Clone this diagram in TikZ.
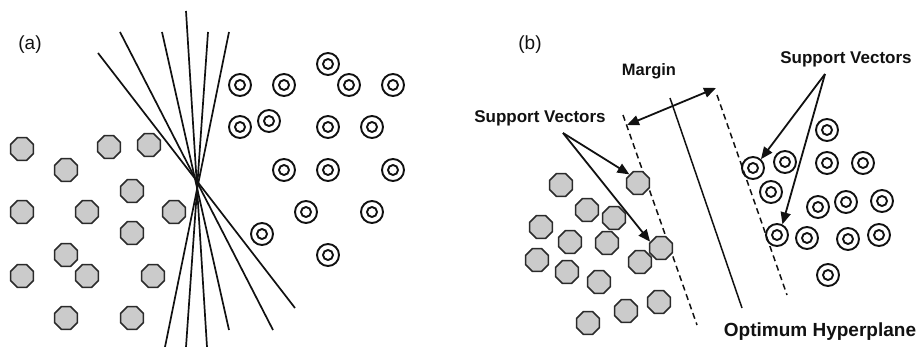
\documentclass[tikz,border=0pt]{standalone}
\usepackage{fontspec}
\setmainfont{Liberation Sans}
\usetikzlibrary{shapes.geometric,arrows.meta}
\definecolor{octfill}{HTML}{CBCBCB}
\definecolor{octline}{HTML}{2A2A2A}
\definecolor{ink}{HTML}{111111}
\tikzset{
  oct/.style={regular polygon, regular polygon sides=8, minimum size=24.6pt, inner sep=0pt,
    fill=octfill, draw=octline, line width=1.6pt},
  ring/.style={circle, minimum size=22pt, inner sep=0pt, draw=ink, line width=1.9pt,
    path picture={\draw[ink, line width=1.9pt] (path picture bounding box.center) circle (5pt);}},
  sepline/.style={draw=ink, line width=1.7pt},
  hyper/.style={draw=ink, line width=1.5pt},
  margline/.style={draw=ink, line width=1.5pt, dash pattern=on 6pt off 4pt},
  arr/.style={draw=ink, line width=1.8pt, -{Triangle[length=12pt,width=10pt]}},
  darr/.style={draw=ink, line width=1.8pt, {Triangle[length=12pt,width=10pt]}-{Triangle[length=12pt,width=10pt]}},
  lbl/.style={text=ink, inner sep=0pt, anchor=base, font=\fontsize{19}{22}\selectfont},
  blbl/.style={text=ink, inner sep=0pt, anchor=base, font=\bfseries\fontsize{17}{20}\selectfont},
}
\begin{document}
\begin{tikzpicture}[x=1pt,y=-1pt]
\useasboundingbox (0,0) rectangle (917,347);
% ---------- panel (a) ----------
\node[lbl] (la) at (30,50) {(a)};
% separating lines
\coordinate (l1a) at (98,53);   \coordinate (l1b) at (295,308);
\coordinate (l2a) at (120,32);  \coordinate (l2b) at (273,330);
\coordinate (l3a) at (162,32);  \coordinate (l3b) at (229,330);
\coordinate (l4a) at (186,11);  \coordinate (l4b) at (207,347);
\coordinate (l5a) at (208,32);  \coordinate (l5b) at (186,347);
\coordinate (l6a) at (229,32);  \coordinate (l6b) at (165,347);
\foreach \i in {1,...,6} {\draw[sepline] (l\i a) -- (l\i b);}
% octagons (a)
\node[oct] (a1) at (22,149) {};
\node[oct] (a2) at (109,147) {};
\node[oct] (a3) at (149,145) {};
\node[oct] (a4) at (66,170) {};
\node[oct] (a5) at (132,191) {};
\node[oct] (a6) at (22,212) {};
\node[oct] (a7) at (87,212) {};
\node[oct] (a8) at (174,212) {};
\node[oct] (a9) at (132,233) {};
\node[oct] (a10) at (66,255) {};
\node[oct] (a11) at (22,276) {};
\node[oct] (a12) at (87,276) {};
\node[oct] (a13) at (153,276) {};
\node[oct] (a14) at (66,318) {};
\node[oct] (a15) at (132,318) {};
% rings (a)
\node[ring] (r1) at (328,64) {};
\node[ring] (r2) at (240,85) {};
\node[ring] (r3) at (284,85) {};
\node[ring] (r4) at (349,85) {};
\node[ring] (r5) at (393,85) {};
\node[ring] (r6) at (240,127) {};
\node[ring] (r7) at (269,121) {};
\node[ring] (r8) at (328,127) {};
\node[ring] (r9) at (372,127) {};
\node[ring] (r10) at (284,170) {};
\node[ring] (r11) at (328,170) {};
\node[ring] (r12) at (393,170) {};
\node[ring] (r13) at (306,212) {};
\node[ring] (r14) at (372,212) {};
\node[ring] (r15) at (262,234) {};
\node[ring] (r16) at (328,255) {};
% ---------- panel (b) ----------
\node[lbl] (lb) at (530,50) {(b)};
% hyperplane and margins
\coordinate (dla) at (623,115); \coordinate (dlb) at (697,325);
\coordinate (dra) at (717,95);  \coordinate (drb) at (787,295);
\coordinate (ha) at (670,98);   \coordinate (hb) at (742,308);
\draw[margline] (dla) -- (dlb);
\draw[margline] (dra) -- (drb);
\draw[hyper] (ha) -- (hb);
% octagons (b)
\node[oct] (b1) at (561,185) {};
\node[oct] (sv1) at (638,183) {};
\node[oct] (b3) at (587,210) {};
\node[oct] (b4) at (614,218) {};
\node[oct] (b5) at (541,227) {};
\node[oct] (b6) at (570,242) {};
\node[oct] (b7) at (607,243) {};
\node[oct] (sv2) at (661,248) {};
\node[oct] (b9) at (537,260) {};
\node[oct] (b10) at (567,272) {};
\node[oct] (b11) at (599,282) {};
\node[oct] (b12) at (640,262) {};
\node[oct] (b13) at (659,302) {};
\node[oct] (b14) at (626,311) {};
\node[oct] (b15) at (588,323) {};
% rings (b)
\node[ring] (c1) at (827,130) {};
\node[ring] (sv3) at (753,168) {};
\node[ring] (c3) at (785,162) {};
\node[ring] (c4) at (827,163) {};
\node[ring] (c5) at (863,163) {};
\node[ring] (c6) at (771,192) {};
\node[ring] (c7) at (818,207) {};
\node[ring] (c8) at (846,202) {};
\node[ring] (c9) at (882,201) {};
\node[ring] (sv4) at (777,235) {};
\node[ring] (c11) at (807,238) {};
\node[ring] (c12) at (848,239) {};
\node[ring] (c13) at (879,235) {};
\node[ring] (c14) at (828,275) {};
% labels
\node[blbl, font=\bfseries\fontsize{16.5}{20}\selectfont] (margin) at (649,76) {Margin};
\node[blbl] (svl) at (540,122.7) {Support Vectors};
\node[blbl] (svr) at (846,63.3) {Support Vectors};
\node[blbl, font=\bfseries\fontsize{19}{22}\selectfont] (opt) at (820,336.7) {Optimum Hyperplane};
% arrows
\coordinate (svlfoot) at (563,133);
\coordinate (svrfoot) at (825,74);
\draw[arr] (svlfoot) -- (sv1.135);
\draw[arr] (svlfoot) -- (sv2.150);
\draw[arr] (svrfoot) -- (sv3.48);
\draw[arr] (svrfoot) -- (sv4.63);
\coordinate (mA) at (627,125);
\coordinate (mB) at (716,88);
\draw[darr] (mA) -- (mB);
\end{tikzpicture}
\end{document}
